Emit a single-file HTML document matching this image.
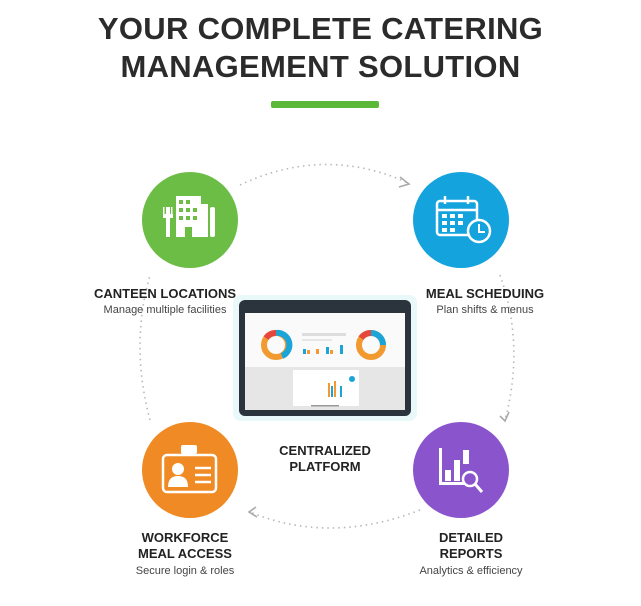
<!DOCTYPE html>
<html><head><style>
body{margin:0;width:641px;height:606px;background:#fff;font-family:"Liberation Sans",Arial,sans-serif;position:relative;overflow:hidden}
.t{position:absolute;left:0;width:641px;text-align:center;font-weight:bold;color:#2b2b2b}
.lab{position:absolute;text-align:center;font-weight:bold;font-size:13px;color:#222;line-height:16px}
.sub{position:absolute;text-align:center;font-size:11px;color:#444}
</style></head><body>
<div class="t" style="top:11px;font-size:31px;letter-spacing:0.3px">YOUR COMPLETE CATERING</div>
<div class="t" style="top:49px;font-size:31px;letter-spacing:0.3px">MANAGEMENT SOLUTION</div>
<div style="position:absolute;left:271px;top:101px;width:108px;height:7px;background:#5cb839;border-radius:2px"></div>
<svg width="641" height="606" style="position:absolute;left:0;top:0">
<g fill="none" stroke="#b5b8bb" stroke-width="1.6" stroke-dasharray="1.5 4">
<path d="M240 185 Q325 145 408 183"/>
<path d="M500 275 Q525 345 505 420"/>
<path d="M420 510 Q330 545 250 512"/>
<path d="M150 420 Q130 345 150 275"/>
</g>
<g fill="none" stroke="#aaa" stroke-width="1.6">
<path d="M400 177 L409 184 L399 187"/>
<path d="M500 416 L505 421 L509 412"/>
<path d="M256 507 L249 512 L257 517"/>
</g>
<circle cx="190" cy="220" r="48" fill="#6cbd45"/>
<circle cx="461" cy="220" r="48" fill="#14a3dc"/>
<circle cx="190" cy="470" r="48" fill="#f08a24"/>
<circle cx="461" cy="470" r="48" fill="#8a55cc"/>
<g fill="#fff">
<rect x="176" y="196" width="25" height="41"/><rect x="194" y="204" width="14" height="33"/>
<rect x="166" y="207" width="4" height="30"/><rect x="163" y="207" width="1.5" height="10"/><rect x="167" y="207" width="1.5" height="10"/><rect x="171" y="207" width="1.5" height="10"/><rect x="163" y="214" width="10" height="4"/>
<rect x="210" y="207" width="5" height="30" rx="2"/>
</g>
<g fill="#6cbd45"><rect x="179" y="200" width="4" height="4"/><rect x="186" y="200" width="4" height="4"/><rect x="179" y="208" width="4" height="4"/><rect x="186" y="208" width="4" height="4"/><rect x="193" y="208" width="4" height="4"/><rect x="179" y="216" width="4" height="4"/><rect x="186" y="216" width="4" height="4"/><rect x="193" y="216" width="4" height="4"/><rect x="185" y="227" width="7" height="10"/></g>
<g stroke="#fff" stroke-width="2.5" fill="none"><rect x="437" y="201" width="40" height="34" rx="3"/><line x1="437" y1="210" x2="477" y2="210"/><line x1="445" y1="196" x2="445" y2="204"/><line x1="468" y1="196" x2="468" y2="204"/></g>
<circle cx="479" cy="231" r="11" fill="#14a3dc" stroke="#fff" stroke-width="2.5"/>
<path d="M479 224 V232 H485" stroke="#fff" stroke-width="2" fill="none"/>
<g fill="#fff"><rect x="442" y="214" width="5" height="4"/><rect x="450" y="214" width="5" height="4"/><rect x="458" y="214" width="5" height="4"/><rect x="442" y="221" width="5" height="4"/><rect x="450" y="221" width="5" height="4"/><rect x="458" y="221" width="5" height="4"/><rect x="442" y="228" width="5" height="4"/><rect x="450" y="228" width="5" height="4"/></g>
<g stroke="#fff" stroke-width="2.5" fill="none"><rect x="163" y="455" width="53" height="37" rx="4"/><line x1="195" y1="468" x2="211" y2="468"/><line x1="195" y1="475" x2="211" y2="475"/><line x1="195" y1="482" x2="211" y2="482"/></g>
<rect x="181" y="445" width="16" height="9" rx="2" fill="#fff"/>
<circle cx="178" cy="469" r="6" fill="#fff"/><path d="M168 487 Q168 476 178 476 Q188 476 188 487Z" fill="#fff"/>
<g fill="#fff"><rect x="439" y="448" width="3" height="36"/><rect x="439" y="482" width="30" height="3"/><rect x="445" y="470" width="6" height="11"/><rect x="454" y="460" width="6" height="21"/><rect x="463" y="450" width="6" height="14"/></g>
<circle cx="470" cy="479" r="7" fill="#8a55cc" stroke="#fff" stroke-width="2.5"/><line x1="475" y1="484" x2="482" y2="492" stroke="#fff" stroke-width="3"/>
<rect x="233" y="295" width="184" height="126" rx="8" fill="#e0f5f7" opacity="0.7"/>
<rect x="239" y="300" width="172" height="116" rx="6" fill="#2b343d"/>
<rect x="245" y="313" width="160" height="97" fill="#fafafa"/>
<rect x="245" y="367" width="160" height="43" fill="#e6e6e6"/>
<rect x="293" y="370" width="66" height="36" fill="#fff"/>
<circle cx="276" cy="345" r="12" fill="none" stroke="#f29a30" stroke-width="6"/>
<circle cx="371" cy="345" r="12" fill="none" stroke="#f29a30" stroke-width="6"/>
<path d="M276 333 A12 12 0 0 1 282 356" stroke="#1aa4d8" stroke-width="6" fill="none"/>
<path d="M371 333 A12 12 0 0 1 383 345" stroke="#1aa4d8" stroke-width="6" fill="none"/>
<path d="M266 338 A12 12 0 0 1 276 333" stroke="#e5473a" stroke-width="6" fill="none"/>
<path d="M361 338 A12 12 0 0 1 371 333" stroke="#e5473a" stroke-width="6" fill="none"/>
<rect x="302" y="333" width="44" height="3" fill="#ddd"/><rect x="302" y="339" width="30" height="2" fill="#e6e6e6"/>
<g fill="#1aa4d8"><rect x="303" y="349" width="3" height="5"/><rect x="326" y="347" width="3" height="7"/><rect x="340" y="345" width="3" height="9"/></g>
<g fill="#f29a30"><rect x="307" y="350" width="3" height="4"/><rect x="316" y="349" width="3" height="5"/><rect x="330" y="350" width="3" height="4"/></g>
<g fill="#f29a30"><rect x="328" y="383" width="2" height="14"/><rect x="334" y="381" width="2" height="16"/></g>
<g fill="#1aa4d8"><rect x="331" y="386" width="2" height="11"/><rect x="340" y="386" width="2" height="11"/></g>
<circle cx="352" cy="379" r="3" fill="#1aa4d8"/>
<rect x="311" y="405" width="28" height="1.5" fill="#999"/>
</svg>
<div class="lab" style="left:80px;top:286px;width:170px">CANTEEN LOCATIONS</div>
<div class="sub" style="left:80px;top:304px;width:170px">Manage multiple facilities</div>
<div class="lab" style="left:400px;top:286px;width:170px">MEAL SCHEDUING</div>
<div class="sub" style="left:400px;top:304px;width:170px">Plan shifts &amp; menus</div>
<div class="lab" style="left:240px;top:443px;width:170px">CENTRALIZED<br>PLATFORM</div>
<div class="lab" style="left:100px;top:530px;width:170px">WORKFORCE<br>MEAL ACCESS</div>
<div class="sub" style="left:100px;top:565px;width:170px">Secure login &amp; roles</div>
<div class="lab" style="left:386px;top:530px;width:170px">DETAILED<br>REPORTS</div>
<div class="sub" style="left:386px;top:565px;width:170px">Analytics &amp; efficiency</div>
</body></html>
